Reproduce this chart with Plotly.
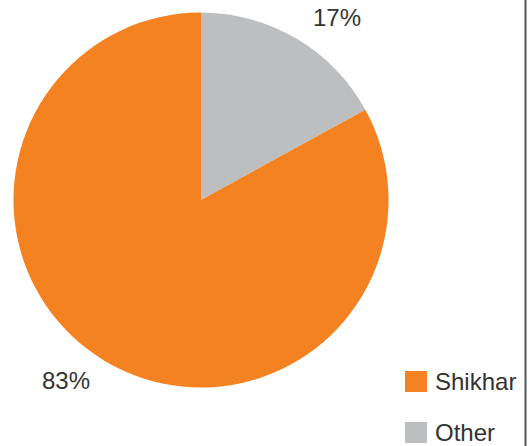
import plotly.graph_objects as go

categories = ["Shikhar", "Other"]
values = [83, 17]
colors = ["#F58220", "#BCBEC0"]

W, H = 530, 446
fig = go.Figure()
# slices drawn clockwise from 12 o'clock, starting with "Other"
fig.add_trace(go.Pie(
    labels=categories[::-1], values=values[::-1], sort=False, direction="clockwise",
    rotation=0, marker=dict(colors=colors[::-1], line=dict(width=0)),
    textinfo="none", hoverinfo="label+percent", showlegend=False,
    domain=dict(x=[13.5 / W, 388.5 / W], y=[1 - 387.5 / H, 1 - 12.5 / H]),
))

font = dict(family="Liberation Sans, Arial, sans-serif", size=24, color="#333333")
# percentage labels
label_pos = {"Other": (337, 17), "Shikhar": (66, 380)}
annotations = []
for c, v in zip(categories, values):
    x, y = label_pos[c]
    annotations.append(dict(x=x / W, y=1 - y / H, xref="paper", yref="paper",
                            text=f"{v}%", showarrow=False, font=font,
                            xanchor="center", yanchor="middle"))

# custom legend
shapes = []
legend_rows = {"Shikhar": 381.5, "Other": 432.5}
for c, col in zip(categories, colors):
    cy = legend_rows[c]
    shapes.append(dict(type="rect", xref="paper", yref="paper",
                       x0=405 / W, x1=427 / W, y0=1 - (cy - 10.5) / H, y1=1 - (cy + 10.5) / H,
                       fillcolor=col, line=dict(width=0)))
    annotations.append(dict(x=433 / W, y=1 - cy / H, xref="paper", yref="paper",
                            text=c, showarrow=False, font=font,
                            xanchor="left", yanchor="middle"))

shapes.append(dict(type="line", xref="paper", yref="paper", x0=525.5 / W, x1=525.5 / W,
                   y0=0, y1=1, line=dict(color="#555555", width=2)))

fig.update_layout(width=W, height=H, margin=dict(l=0, r=0, t=0, b=0),
                  paper_bgcolor="white", plot_bgcolor="white",
                  annotations=annotations, shapes=shapes)
fig.write_html("out.html", config={"displayModeBar": False},
               post_script="document.body.style.margin='0';document.body.style.overflow='hidden';")
